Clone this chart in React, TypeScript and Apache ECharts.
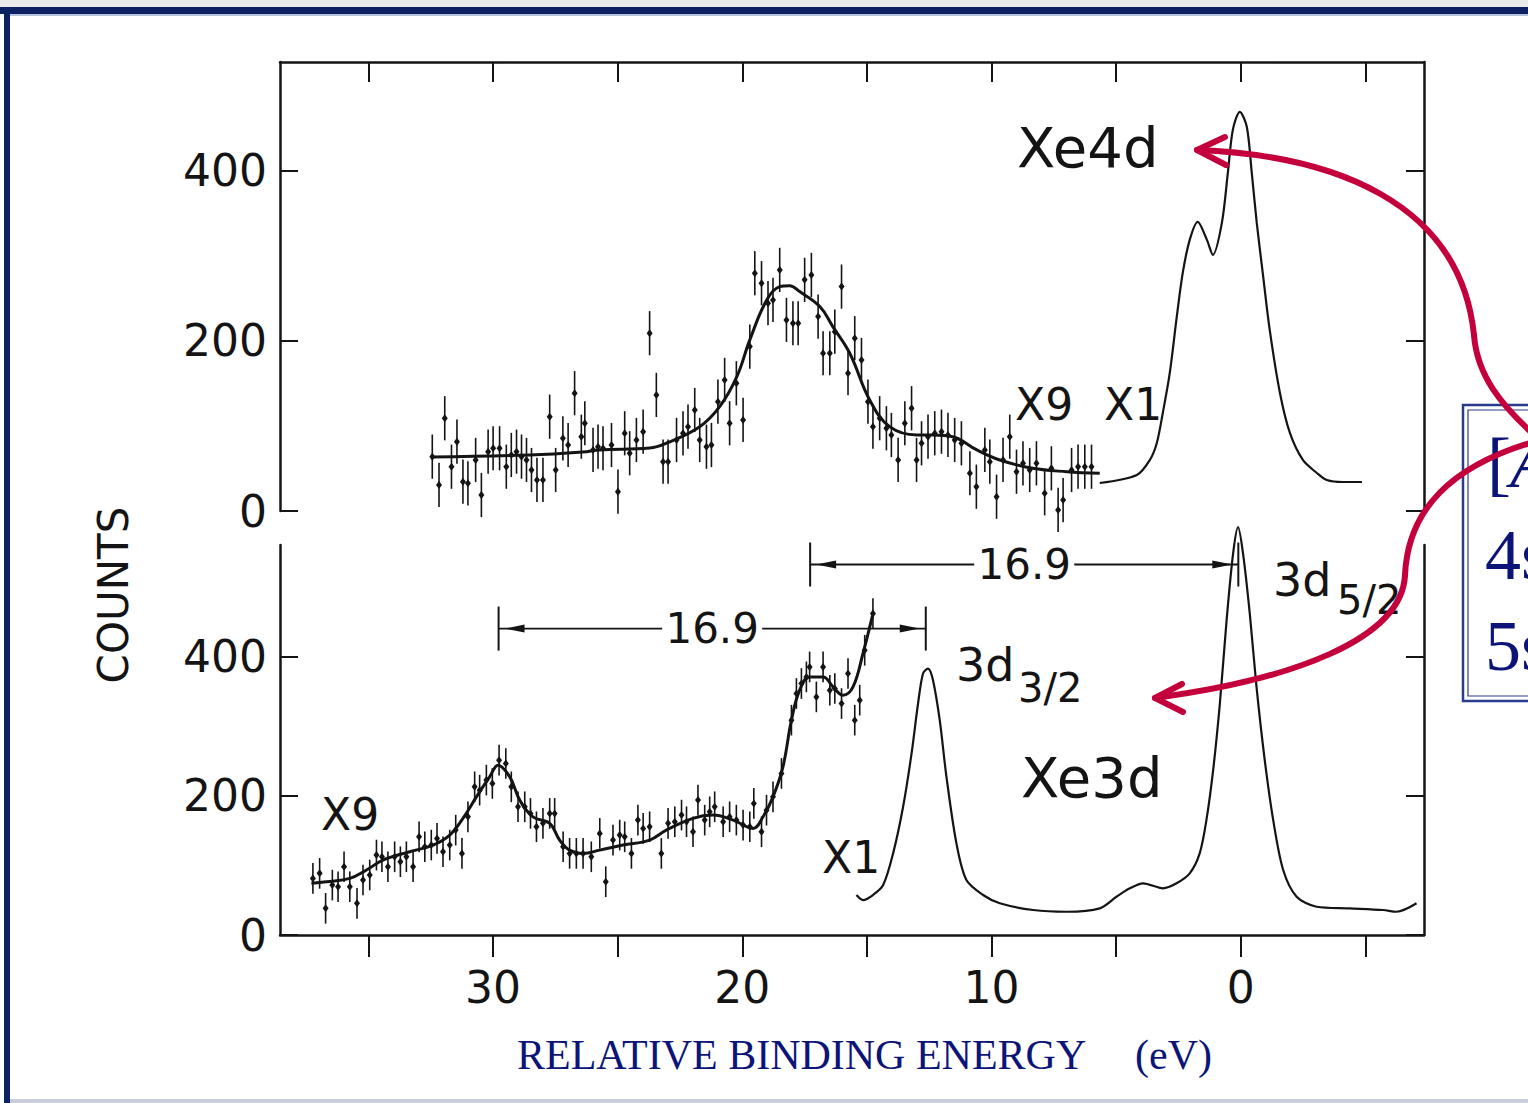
import React, { useEffect, useRef } from "react";
import * as echarts from "echarts";

// ---------- axis ticks ----------
const X_TICKS = [35, 30, 25, 20, 15, 10, 5, 0, -5];
const X_LABELS = [30, 20, 10, 0];
const Y_TICKS = [0, 200, 400];

// ---------- Xe 4d (top panel) ----------
const xe4dFit: number[][] = [
  [32.46, 63.5], [28.53, 65.9], [26.4, 69.4], [25.72, 71.8], [23.72, 74], [23.03, 80.0],
  [21.71, 99.2], [20.91, 122.7], [20.22, 158.0], [19.7, 201.2], [19.02, 248.2], [18.5, 263.9],
  [18.1, 265], [17.7, 258.0], [16.89, 240.4], [16.37, 216.8], [15.69, 185.5], [14.89, 130.6],
  [14.09, 99.2], [13.0, 89.4], [12.36, 89.4], [11.56, 87.4], [10.59, 71.8], [9.67, 60.0],
  [8.35, 50.2], [6.98, 46.2], [5.66, 44.3],
];
const xe4dPoints: number[][] = [
  [32.44, 63.9], [32.17, 30.6], [31.94, 109.1], [31.67, 52.1], [31.45, 81.5], [31.21, 34.5],
  [31.01, 32.6], [30.7, 60.0], [30.47, 18.8], [30.2, 69.8], [30.0, 73.8], [29.74, 73.8],
  [29.47, 52.1], [29.27, 65.9], [29.06, 69.8], [28.86, 63.9], [28.66, 60.0], [28.46, 48.2],
  [28.24, 36.5], [28.0, 36.5], [27.73, 110.9], [27.49, 48.2], [27.2, 85.5], [26.99, 77.6],
  [26.73, 138.5], [26.46, 87.4], [26.32, 103.2], [25.99, 71.8], [25.79, 75.6], [25.59, 73.8],
  [25.25, 77.6], [24.99, 22.7], [24.72, 91.4], [24.52, 67.9], [24.25, 83.5], [23.98, 93.3],
  [23.72, 209.1], [23.45, 136.5], [23.18, 58.0], [22.98, 58.0], [22.64, 83.5], [22.38, 91.4],
  [22.18, 99.2], [21.91, 118.8], [21.71, 83.5], [21.44, 75.6], [21.24, 77.6], [20.98, 128.6],
  [20.71, 154.1], [20.51, 103.2], [20.24, 150.2], [19.97, 107.1], [19.7, 193.3], [19.5, 279.6],
  [19.23, 267.9], [18.97, 244.4], [18.77, 248.2], [18.5, 283.5], [18.23, 224.7], [17.97, 220.8],
  [17.76, 220.8], [17.5, 271.8], [17.23, 277.6], [16.96, 228.6], [16.76, 185.5], [16.49, 185.5],
  [16.29, 210.9], [16.02, 263.9], [15.76, 162.0], [15.49, 203.2], [15.22, 177.6], [14.96, 128.6],
  [14.76, 99.2], [14.49, 109.1], [14.22, 97.3], [14.02, 89.4], [13.75, 60.0], [13.48, 103.2],
  [13.21, 120.8], [13.01, 60.0], [12.81, 79.6], [12.55, 87.4], [12.28, 91.4], [12.01, 93.3],
  [11.75, 89.4], [11.48, 83.5], [11.21, 79.6], [10.87, 44.4], [10.61, 28.6], [10.27, 71.8],
  [10.07, 58.0], [9.8, 16.8], [9.54, 60.0], [9.27, 87.4], [9.0, 46.2], [8.74, 56.1],
  [8.47, 48.2], [8.2, 56.1], [7.87, 20.8], [7.6, 50.2], [7.33, 1.2], [7.13, 12.9],
  [6.79, 48.2], [6.53, 52.1], [6.26, 52.1], [5.99, 52.1],
];
const xe4dX1: number[][] = [
  [5.66, 32.9], [4.17, 42.4], [3.65, 60.0], [3.37, 80.0], [3.13, 115.3], [2.85, 162.4],
  [2.57, 228.2], [2.33, 280.0], [2.05, 318.8], [1.73, 340.0], [1.36, 318.8], [1.12, 301.2],
  [0.76, 338.8], [0.52, 397.6], [0.32, 448.2], [0.04, 469.4], [-0.24, 451.8], [-0.44, 397.6],
  [-0.64, 338.8], [-0.88, 280.0], [-1.16, 212.9], [-1.57, 138.8], [-1.97, 91.8], [-2.49, 60.0],
  [-3.05, 44.7], [-3.45, 36.5], [-4.09, 34.1], [-4.86, 34.1],
];
const ERR_4D = 26;

// ---------- Xe 3d (bottom panel) ----------
const xe3dFit: number[][] = [
  [37.29, 74.2], [36.69, 76.5], [35.75, 81.3], [35.08, 93.3], [34.42, 107.6], [33.35, 119.5],
  [32.41, 129.1], [31.74, 143.5], [31.21, 167.4], [30.67, 198.4], [30.14, 227.1], [29.8, 243.9],
  [29.33, 227.1], [28.93, 193.7], [28.4, 169.7], [27.73, 160.3], [27.33, 136.3], [26.93, 121.9],
  [26.39, 117.2], [25.72, 121.9], [24.79, 129.1], [23.72, 136.3], [23.05, 150.6], [21.98, 167.4],
  [21.18, 172.2], [20.37, 165.0], [19.57, 153.1], [19.17, 169.7], [18.77, 198.4], [18.37, 241.5],
  [18.03, 308.5], [17.7, 351.5], [17.3, 370.6], [16.76, 370.6], [16.36, 356.2], [15.96, 344.3],
  [15.56, 356.2], [15.16, 404.2], [14.76, 461.5],
];
const xe3dPoints: number[][] = [
  [37.23, 81.3], [36.96, 88.5], [36.72, 38.3], [36.45, 71.7], [36.22, 69.3], [35.98, 98.0],
  [35.75, 69.3], [35.46, 45.5], [35.22, 78.9], [34.95, 86.1], [34.68, 114.8], [34.46, 112.3],
  [34.22, 98.0], [33.95, 112.3], [33.72, 105.2], [33.48, 112.3], [33.21, 98.0], [32.97, 141.0],
  [32.74, 126.7], [32.48, 129.1], [32.25, 138.7], [32.01, 119.5], [31.74, 129.1], [31.5, 150.6],
  [31.25, 117.2], [31.01, 169.7], [30.74, 212.8], [30.54, 208.0], [30.27, 222.4], [30.03, 217.6],
  [29.76, 251.1], [29.49, 246.3], [29.27, 212.8], [29.0, 184.1], [28.73, 184.1], [28.5, 174.6],
  [28.26, 155.4], [28.0, 160.3], [27.73, 174.6], [27.53, 174.6], [27.19, 126.7], [26.93, 117.2],
  [26.66, 117.2], [26.39, 117.2], [26.06, 112.3], [25.72, 145.9], [25.48, 76.5], [25.19, 136.3],
  [24.92, 143.5], [24.72, 141.0], [24.45, 117.2], [24.19, 165.0], [23.98, 153.1], [23.72, 155.4],
  [23.25, 117.2], [22.98, 160.3], [22.71, 162.6], [22.44, 172.2], [22.24, 162.6], [21.98, 148.2],
  [21.78, 193.7], [21.51, 165.0], [21.31, 176.9], [21.11, 184.1], [20.77, 162.6], [20.51, 169.7],
  [20.24, 165.0], [19.97, 157.8], [19.7, 155.4], [19.54, 189.0], [19.23, 148.2], [19.03, 179.3],
  [18.77, 198.4], [18.43, 232.0], [18.03, 308.5], [17.83, 346.8], [17.63, 361.1], [17.43, 370.6],
  [17.3, 384.9], [17.03, 341.9], [16.76, 384.9], [16.49, 351.5], [16.29, 353.9], [16.02, 332.4],
  [15.76, 375.5], [15.49, 308.5], [15.29, 337.2], [15.09, 408.9], [14.76, 461.5],
];
const xe3dX1: number[][] = [
  [15.42, 57.4], [15.16, 50.2], [14.76, 57.4], [14.35, 71.7], [13.95, 117.2], [13.55, 184.1],
  [13.21, 260.7], [12.95, 332.4], [12.75, 375.5], [12.55, 382.6], [12.35, 365.9], [12.08, 308.5],
  [11.81, 227.1], [11.41, 131.6], [11.01, 78.9], [10.34, 57.4], [9.67, 45.5], [8.33, 35.9],
  [6.99, 33.4], [5.66, 38.3], [4.99, 54.9], [4.45, 67.0], [3.92, 74.2], [3.12, 67.0],
  [2.58, 74.2], [2.05, 88.5], [1.65, 117.2], [1.38, 165.0], [1.11, 236.7], [0.84, 332.4],
  [0.57, 451.9], [0.31, 547.6], [0.11, 585.8], [-0.09, 547.6], [-0.36, 461.5], [-0.63, 356.2],
  [-0.96, 251.1], [-1.3, 165.0], [-1.7, 93.3], [-2.24, 54.9], [-3.04, 40.6], [-4.37, 38.3],
  [-5.71, 35.9], [-6.25, 33.4], [-7.05, 45.5],
];
const ERR_3D = 22;

// 16.9 eV spacing markers: [from, to, level]
const spacingBars: number[][] = [
  [17.28, 0.1, 532],
  [29.78, 12.64, 440],
];
const spacingLabels = ["16.9", "16.9"];

const INK = "#141414";
const NAVY = "#0c1577";
const RED = "#c4003c";
const FONT = "DejaVu Sans";
const SERIF = "Liberation Serif";

function txt(text: string, x: number, y: number, size: number, extra: any = {}) {
  return {
    type: "text",
    x,
    y,
    z: 20,
    silent: true,
    style: {
      text,
      fontSize: size,
      fontFamily: FONT,
      fill: INK,
      align: "left",
      textAlign: "left",
      verticalAlign: "middle",
      textVerticalAlign: "middle",
      ...extra,
    },
  };
}

const errRender = (params: any, api: any) => {
  const x = api.value(0);
  const y = api.value(1);
  const e = api.value(2);
  const c = api.coord([x, y]);
  const hi = api.coord([x, y + e]);
  const lo = api.coord([x, y - e]);
  return {
    type: "group",
    children: [
      { type: "line", shape: { x1: c[0], y1: hi[1], x2: c[0], y2: lo[1] }, style: { stroke: INK, lineWidth: 1.6 } },
      {
        type: "polygon",
        shape: { points: [[c[0], c[1] - 4], [c[0] + 3, c[1]], [c[0], c[1] + 4], [c[0] - 3, c[1]]] },
        style: { fill: INK },
      },
    ],
  };
};

const spacingRender = (params: any, api: any) => {
  const x1 = api.value(0);
  const x2 = api.value(1);
  const y = api.value(2);
  const p1 = api.coord([x1, y]);
  const p2 = api.coord([x2, y]);
  const cx = (p1[0] + p2[0]) / 2;
  const gap = 50;
  const h = 22;
  const ls = { stroke: INK, lineWidth: 1.8 };
  return {
    type: "group",
    children: [
      { type: "line", shape: { x1: p1[0], y1: p1[1], x2: cx - gap, y2: p1[1] }, style: ls },
      { type: "line", shape: { x1: cx + gap, y1: p1[1], x2: p2[0], y2: p2[1] }, style: ls },
      { type: "line", shape: { x1: p1[0], y1: p1[1] - h, x2: p1[0], y2: p1[1] + h }, style: { stroke: INK, lineWidth: 2 } },
      { type: "line", shape: { x1: p2[0], y1: p2[1] - h, x2: p2[0], y2: p2[1] + h }, style: { stroke: INK, lineWidth: 2 } },
      {
        type: "polygon",
        shape: { points: [[p1[0] + 6, p1[1]], [p1[0] + 26, p1[1] - 4], [p1[0] + 26, p1[1] + 4]] },
        style: { fill: INK },
      },
      {
        type: "polygon",
        shape: { points: [[p2[0] - 6, p2[1]], [p2[0] - 26, p2[1] - 4], [p2[0] - 26, p2[1] + 4]] },
        style: { fill: INK },
      },
      {
        type: "text",
        x: cx,
        y: p1[1],
        style: {
          text: spacingLabels[params.dataIndex],
          fontSize: 42,
          fontFamily: FONT,
          fill: INK,
          align: "center",
          textAlign: "center",
          verticalAlign: "middle",
          textVerticalAlign: "middle",
        },
      },
    ],
  };
};

export default function App() {
  const ref = useRef<HTMLDivElement>(null);

  useEffect(() => {
    if (!ref.current) return;
    const chart = echarts.init(ref.current, null, { renderer: "svg" });

    const axisLine = { show: true, onZero: false, lineStyle: { color: INK, width: 2.5 } };
    const tickStyle = { color: INK, width: 2 };
    const xBase = {
      type: "value",
      min: -7.35,
      max: 38.55,
      inverse: true,
      splitLine: { show: false },
      axisLine,
    };
    const yLabel = {
      show: true,
      customValues: Y_TICKS,
      margin: 13,
      fontSize: 44,
      fontFamily: FONT,
      color: INK,
    };

    const option: any = {
      animation: false,
      backgroundColor: "#ffffff",
      grid: [
        { left: 280, top: 62, width: 1144, height: 449 },
        { left: 280, top: 545, width: 1144, height: 390 },
      ],
      xAxis: [
        {
          ...xBase,
          gridIndex: 0,
          position: "top",
          axisTick: { show: true, inside: true, length: 20, customValues: X_TICKS, lineStyle: tickStyle },
          axisLabel: { show: false },
        },
        {
          ...xBase,
          gridIndex: 1,
          position: "bottom",
          axisTick: { show: true, inside: false, length: 22, customValues: X_TICKS, lineStyle: tickStyle },
          axisLabel: { show: true, customValues: X_LABELS, margin: 30, fontSize: 44, fontFamily: FONT, color: INK },
        },
      ],
      yAxis: [
        {
          type: "value", gridIndex: 0, position: "left", min: 0, max: 528, splitLine: { show: false }, axisLine,
          axisTick: { show: true, inside: true, length: 18, customValues: Y_TICKS, lineStyle: tickStyle },
          axisLabel: yLabel,
        },
        {
          type: "value", gridIndex: 0, position: "right", min: 0, max: 528, splitLine: { show: false }, axisLine,
          axisTick: { show: true, inside: true, length: 18, customValues: Y_TICKS, lineStyle: tickStyle },
          axisLabel: { show: false },
        },
        {
          type: "value", gridIndex: 1, position: "left", min: 0, max: 560, splitLine: { show: false }, axisLine,
          axisTick: { show: true, inside: true, length: 18, customValues: Y_TICKS, lineStyle: tickStyle },
          axisLabel: yLabel,
        },
        {
          type: "value", gridIndex: 1, position: "right", min: 0, max: 560, splitLine: { show: false }, axisLine,
          axisTick: { show: true, inside: true, length: 18, customValues: Y_TICKS, lineStyle: tickStyle },
          axisLabel: { show: false },
        },
      ],
      series: [
        {
          name: "Xe 4d fit", type: "line", xAxisIndex: 0, yAxisIndex: 0, data: xe4dFit, smooth: 0.4,
          showSymbol: false, lineStyle: { color: INK, width: 3 }, z: 3, silent: true,
        },
        {
          name: "Xe 4d data", type: "custom", xAxisIndex: 0, yAxisIndex: 0,
          data: xe4dPoints.map((p) => [p[0], p[1], ERR_4D]), renderItem: errRender,
          encode: { x: 0, y: 1 }, z: 4, silent: true,
        },
        {
          name: "Xe 4d x1", type: "line", xAxisIndex: 0, yAxisIndex: 0, data: xe4dX1, smooth: 0.3,
          showSymbol: false, lineStyle: { color: INK, width: 2.2 }, z: 3, silent: true,
        },
        {
          name: "Xe 3d fit", type: "line", xAxisIndex: 1, yAxisIndex: 2, data: xe3dFit, smooth: 0.4,
          showSymbol: false, lineStyle: { color: INK, width: 3 }, z: 3, silent: true,
        },
        {
          name: "Xe 3d data", type: "custom", xAxisIndex: 1, yAxisIndex: 2,
          data: xe3dPoints.map((p) => [p[0], p[1], ERR_3D]), renderItem: errRender,
          encode: { x: 0, y: 1 }, z: 4, silent: true,
        },
        {
          name: "Xe 3d x1", type: "line", xAxisIndex: 1, yAxisIndex: 2, data: xe3dX1, smooth: 0.3,
          showSymbol: false, clip: false, lineStyle: { color: INK, width: 2.2 }, z: 3, silent: true,
        },
        {
          name: "spacing", type: "custom", xAxisIndex: 1, yAxisIndex: 2, data: spacingBars,
          renderItem: spacingRender, encode: { x: [0, 1], y: 2 }, z: 5, silent: true, clip: false,
        },
      ],
      graphic: {
        elements: [
          // slide frame
          { type: "rect", shape: { x: 0, y: 0, width: 1528, height: 7 }, style: { fill: "#ebebeb" }, z: 1, silent: true },
          { type: "rect", shape: { x: 0, y: 7, width: 1528, height: 7 }, style: { fill: "#0b2160" }, z: 2, silent: true },
          { type: "rect", shape: { x: 10, y: 14, width: 1518, height: 2 }, style: { fill: "#b7c3dc" }, z: 2, silent: true },
          { type: "rect", shape: { x: 4, y: 7, width: 6, height: 1096 }, style: { fill: "#0b2160" }, z: 2, silent: true },
          { type: "rect", shape: { x: 10, y: 1099, width: 1518, height: 4 }, style: { fill: "#c8cdd9" }, z: 2, silent: true },

          // configuration box (cut at the right edge)
          { type: "rect", shape: { x: 1463, y: 405, width: 120, height: 296 }, style: { fill: "#ffffff", stroke: "#2a3a8c", lineWidth: 2.5 }, z: 15, silent: true },
          { type: "rect", shape: { x: 1468, y: 410, width: 120, height: 286 }, style: { fill: "none", stroke: "#2a3a8c", lineWidth: 1.2 }, z: 15, silent: true },
          txt("[", 1487, 463, 72, { fontFamily: SERIF, fill: NAVY }),
          txt("Ar]3d¹⁰", 1510, 463, 72, { fontFamily: SERIF, fill: NAVY, fontStyle: "italic" }),
          txt("4s²4p⁶4d¹⁰", 1485, 555, 72, { fontFamily: SERIF, fill: NAVY }),
          txt("5s²5p⁶", 1485, 646, 72, { fontFamily: SERIF, fill: NAVY }),

          // panel annotations
          txt("Xe4d", 1017, 147, 56),
          txt("X9", 1015, 404, 44),
          txt("X1", 1104, 404, 44),
          txt("3d", 1273, 580, 46),
          txt("5/2", 1337, 600, 40),
          txt("3d", 956, 665, 46),
          txt("3/2", 1018, 688, 40),
          txt("Xe3d", 1021, 777, 56),
          txt("X9", 321, 814, 44),
          txt("X1", 822, 857, 44),
          {
            type: "text", x: 113, y: 595, rotation: Math.PI / 2, z: 20, silent: true,
            style: {
              text: "COUNTS", fontSize: 42, fontFamily: FONT, fill: INK,
              align: "center", textAlign: "center", verticalAlign: "middle", textVerticalAlign: "middle",
            },
          },
          txt("RELATIVE BINDING ENERGY", 517, 1055, 42, { fontFamily: SERIF, fill: NAVY }),
          txt("(eV)", 1135, 1055, 42, { fontFamily: SERIF, fill: NAVY }),

          // red arrows
          {
            type: "bezierCurve", z: 30, silent: true,
            shape: { x1: 1197, y1: 150, cpx1: 1330, cpy1: 155, cpx2: 1460, cpy2: 200, x2: 1474, y2: 335 },
            style: { stroke: RED, lineWidth: 6, fill: "none", lineCap: "round" },
          },
          {
            type: "bezierCurve", z: 30, silent: true,
            shape: { x1: 1474, y1: 335, cpx1: 1477, cpy1: 375, cpx2: 1500, cpy2: 405, x2: 1540, y2: 440 },
            style: { stroke: RED, lineWidth: 6, fill: "none", lineCap: "round" },
          },
          {
            type: "polyline", z: 30, silent: true,
            shape: { points: [[1225, 137], [1197, 150], [1226, 165]] },
            style: { stroke: RED, lineWidth: 6, fill: "none", lineCap: "round", lineJoin: "round" },
          },
          {
            type: "bezierCurve", z: 30, silent: true,
            shape: { x1: 1540, y1: 440, cpx1: 1450, cpy1: 465, cpx2: 1408, cpy2: 510, x2: 1405, y2: 575 },
            style: { stroke: RED, lineWidth: 6, fill: "none", lineCap: "round" },
          },
          {
            type: "bezierCurve", z: 30, silent: true,
            shape: { x1: 1405, y1: 575, cpx1: 1402, cpy1: 640, cpx2: 1290, cpy2: 680, x2: 1155, y2: 698 },
            style: { stroke: RED, lineWidth: 6, fill: "none", lineCap: "round" },
          },
          {
            type: "polyline", z: 30, silent: true,
            shape: { points: [[1182, 684], [1155, 698], [1183, 712]] },
            style: { stroke: RED, lineWidth: 6, fill: "none", lineCap: "round", lineJoin: "round" },
          },
        ],
      },
    };

    chart.setOption(option);
    return () => {
      chart.dispose();
    };
  }, []);

  return (
    <div
      ref={ref}
      style={{ position: "absolute", left: 0, top: 0, width: 1528, height: 1103, background: "#ffffff" }}
    />
  );
}
